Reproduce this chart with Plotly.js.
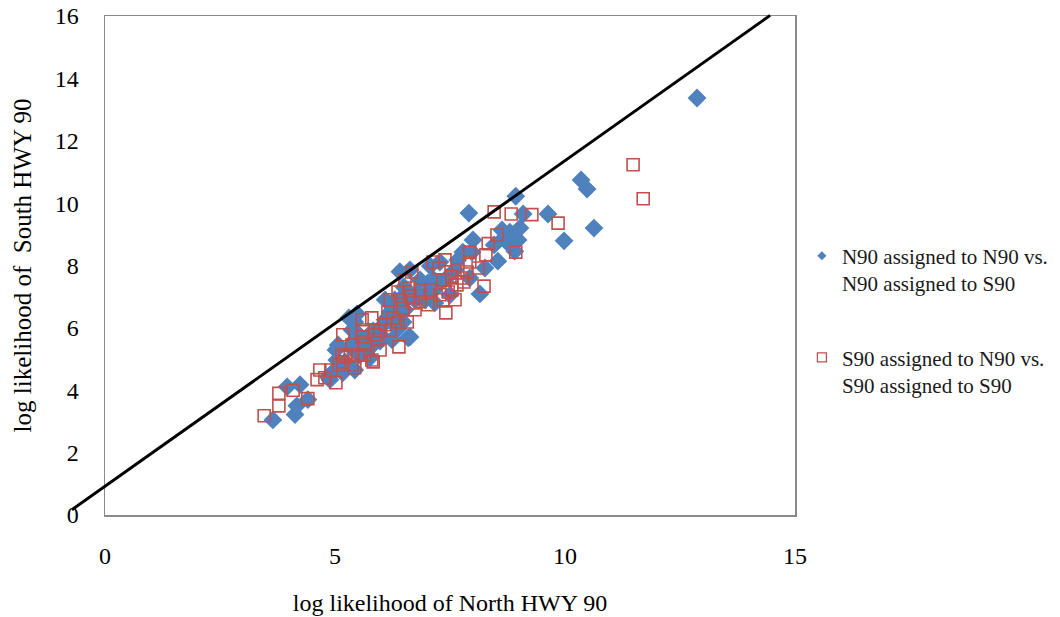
<!DOCTYPE html>
<html>
<head>
<meta charset="utf-8">
<script src="https://cdn.plot.ly/plotly-3.0.1.min.js"></script>
<style>html,body{margin:0;padding:0;background:#fff;}#chart{width:1060px;height:617px;}</style>
</head>
<body>
<div id="chart"></div>
<script>
// N90 assigned to N90 vs. N90 assigned to S90
const northX = [12.87,10.35,10.48,10.63,9.98,9.63,8.93,9.09,7.91,8.54,8.15,8.91,8.80,8.98,8.67,8.46,8.00,7.98,7.78,7.67,7.61,7.43,7.28,7.07,7.13,6.96,7.02,6.80,6.63,6.48,6.43,6.30,6.48,6.59,6.37,6.20,6.09,5.98,5.83,5.72,5.61,6.41,6.50,6.63,5.98,5.80,5.67,5.50,5.43,5.37,5.33,5.43,5.48,5.30,5.07,5.02,5.04,5.22,4.96,4.89,4.85,5.17,5.43,5.54,5.76,5.65,5.48,6.04,6.63,3.65,4.13,4.17,4.41,3.96,4.24,7.28,6.85,6.30,6.74,7.17,7.50,7.93,8.26,9.02,8.80,8.63,6.09,6.24,7.15,6.52,6.26];
const northY = [13.37,10.74,10.45,9.20,8.79,9.65,10.22,9.65,9.68,8.14,7.09,8.46,9.07,8.82,8.88,8.66,8.82,8.43,8.43,8.18,7.86,7.60,7.44,7.98,7.18,6.90,7.44,7.15,7.02,7.02,6.58,6.32,6.19,5.68,5.97,6.51,6.26,6.00,5.90,5.74,5.62,7.80,7.31,7.86,5.58,5.42,5.29,5.17,5.62,5.93,5.39,6.19,6.45,6.32,5.45,5.29,4.97,4.91,4.59,4.34,4.43,4.56,4.65,5.13,5.04,5.62,5.84,5.71,5.71,3.05,3.22,3.50,3.70,4.11,4.18,8.11,7.54,6.90,6.90,6.80,7.06,7.60,7.92,9.20,8.66,9.14,6.90,5.62,7.54,6.58,6.17];
// S90 assigned to N90 vs. S90 assigned to S90
const southX = [11.48,11.70,9.28,9.85,8.83,8.46,8.93,8.33,8.52,8.28,8.24,7.93,7.87,7.76,7.65,7.54,7.35,7.26,7.13,7.07,7.02,7.41,7.35,6.85,6.74,6.70,6.63,6.61,6.48,6.41,6.26,6.20,6.39,6.09,5.98,5.87,5.80,5.65,5.61,5.59,5.37,5.33,5.17,5.15,5.80,4.91,5.09,4.67,4.61,4.78,5.02,5.17,5.22,5.50,5.83,5.43,5.59,5.93,3.46,3.78,3.78,4.09,4.41,6.20,6.85,7.46,7.67,7.93,8.11,7.61,6.37,6.52,6.15,6.37,6.57,5.65,5.98,5.37,6.67,7.39,7.80,7.54,7.28];
const southY = [11.23,10.14,9.63,9.36,9.65,9.72,8.43,8.70,8.98,8.34,7.34,8.11,7.79,7.60,7.38,7.66,7.54,7.92,8.11,7.22,6.74,6.48,6.90,6.84,6.58,6.80,7.02,7.28,6.64,6.90,6.32,5.93,5.39,6.10,5.90,5.78,6.32,5.45,5.93,6.26,5.45,5.13,5.78,5.13,4.97,4.65,4.81,4.65,4.34,4.40,4.24,4.91,5.07,5.13,4.91,4.72,5.71,5.62,3.18,3.50,3.90,4.00,3.73,6.90,7.22,7.15,7.86,8.43,7.92,6.90,7.15,7.54,6.51,6.19,6.19,5.13,5.29,4.81,7.79,8.18,7.47,7.22,7.06];
// reference line end points (data units)
const refLineX = [-0.72, 14.46];
const refLineY = [0.17, 16.02];

const xRange = [0, 15];
const yRange = [0, 16];
const xTicks = [0, 5, 10, 15];
const yTicks = [0, 2, 4, 6, 8, 10, 12, 14, 16];
const seriesNames = ['N90 assigned to N90 vs.<br>N90 assigned to S90', 'S90 assigned to N90 vs.<br>S90 assigned to S90'];
const xTitle = 'log likelihood of North HWY 90';
const yTitle = 'log likelihood of \u00a0South HWY 90' + '\u00a0'.repeat(10);

const blue = '#4F81BD', red = '#C0504D';
const serif = 'Liberation Serif, Times New Roman, serif';

const toPx = (v, r) => (v - r[0]) / (r[1] - r[0]);

const traces = [
  {x: northX, y: northY, type: 'scatter', mode: 'markers', name: seriesNames[0], showlegend: false,
   marker: {symbol: 'diamond', size: 14.5, color: blue, line: {width: 0}}},
  {x: southX, y: southY, type: 'scatter', mode: 'markers', name: seriesNames[1], showlegend: false,
   marker: {symbol: 'square-open', size: 12, color: red, line: {width: 1.6, color: red}}},
  {x: [null], y: [null], type: 'scatter', mode: 'markers', name: seriesNames[0], legendgroup: 'a',
   marker: {symbol: 'diamond', size: 7, color: blue}},
  {x: [null], y: [null], type: 'scatter', mode: 'markers', name: seriesNames[1], legendgroup: 'b',
   marker: {symbol: 'square-open', size: 9, color: red, line: {width: 1.3, color: red}}}
];

const axisCommon = {
  showgrid: false, zeroline: false, showline: true, mirror: true,
  linecolor: '#8a8a8a', linewidth: 1.5, ticks: '', tickmode: 'array', automargin: false,
  tickfont: {family: serif, size: 24, color: '#000'}
};

const layout = {
  width: 1060, height: 617,
  margin: {l: 105, r: 265, t: 16, b: 102, autoexpand: false},
  paper_bgcolor: '#fff', plot_bgcolor: '#fff',
  font: {family: serif, color: '#000'},
  xaxis: Object.assign({}, axisCommon, {
    range: xRange, tickvals: xTicks, ticktext: xTicks.map(String), ticklabelstandoff: 19,
    title: {text: xTitle, font: {family: serif, size: 24, color: '#000'}, standoff: 26}
  }),
  yaxis: Object.assign({}, axisCommon, {
    range: yRange, tickvals: yTicks, ticktext: yTicks.map(String), ticklabelstandoff: 20,
    title: {text: yTitle, font: {family: serif, size: 25, color: '#000'}, standoff: 16}
  }),
  legend: {
    x: 1.010, xanchor: 'left', y: 0.560, yanchor: 'top',
    font: {family: serif, size: 21, color: '#1a1a1a'},
    traceorder: 'grouped', tracegroupgap: 44, valign: 'top',
    bgcolor: 'rgba(0,0,0,0)', itemwidth: 30
  },
  shapes: [{
    type: 'line', xref: 'paper', yref: 'paper',
    x0: toPx(refLineX[0], xRange), y0: toPx(refLineY[0], yRange),
    x1: toPx(refLineX[1], xRange), y1: toPx(refLineY[1], yRange),
    line: {color: '#000', width: 3}, layer: 'above'
  }]
};

Plotly.newPlot('chart', traces, layout, {staticPlot: true, displayModeBar: false});
</script>
</body>
</html>
